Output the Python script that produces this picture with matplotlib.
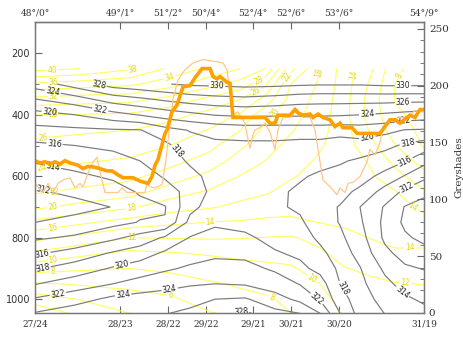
import numpy as np
import matplotlib
matplotlib.use("Agg")
import matplotlib.pyplot as plt

# ---------------- data ----------------
station_x = [0, 85, 133, 171, 218, 256, 304, 389]
bottom_labels = ["27/24", "28/23", "28/22", "29/22", "29/21", "30/21", "30/20", "31/19"]
top_labels = ["48°/0°", "49°/1°", "51°/2°", "50°/4°", "52°/4°", "52°/6°", "53°/6°", "54°/9°"]

# grey contour field (theta-e, K), levels 300..1050 hPa
grey_p = [300, 350, 400, 450, 500, 550, 600, 650, 700, 750, 800, 850, 900, 950, 1000, 1050]
grey_x = [0, 40, 78, 105, 130, 155, 180, 210, 240, 265, 285, 305, 325, 350, 370, 389]
theta_e = [
    [324.9, 326.9, 328.9, 329.4, 329.9, 330.3, 330.4, 330.6, 330.5, 330.3, 330.2, 330.2, 330.2, 330.4, 330.4, 330.4],
    [321.9, 323.1, 324.9, 325.6, 326.3, 326.9, 327.3, 327.5, 327.2, 326.8, 326.7, 326.7, 326.7, 326.7, 326.6, 326.6],
    [319.3, 320.0, 321.3, 322.1, 322.9, 323.5, 324.1, 324.4, 324.3, 324.3, 324.3, 324.2, 324.0, 323.7, 323.4, 323.1],
    [317.4, 317.6, 317.8, 317.9, 319.3, 320.1, 320.6, 320.9, 320.9, 320.9, 320.9, 320.8, 321.0, 320.6, 319.9, 319.8],
    [315.6, 316.0, 316.4, 316.95, 317.5, 319.2, 319.6, 319.6, 319.6, 319.4, 319.4, 319.0, 319.2, 318.5, 317.7, 317.1],
    [314.2, 314.8, 315.3, 316.0, 316.8, 318.3, 319.0, 319.0, 319.0, 318.9, 318.6, 318.2, 317.7, 317.0, 316.1, 314.6],
    [312.9, 313.6, 314.3, 315.1, 316.2, 317.4, 318.7, 318.7, 318.6, 318.2, 317.7, 317.4, 316.8, 315.4, 313.85, 312.5],
    [311.8, 312.4, 313.2, 314.2, 315.2, 316.6, 318.7, 318.5, 318.35, 317.7, 316.9, 316.6, 315.6, 313.2, 311.6, 310.4],
    [311.1, 311.4, 312.05, 313.5, 313.9, 317.4, 319.0, 318.5, 318.3, 317.7, 316.6, 315.9, 314.0, 311.8, 309.9, 309.4],
    [312.0, 312.6, 313.4, 314.1, 314.1, 318.6, 319.7, 319.3, 318.6, 318.3, 316.9, 315.9, 314.3, 311.5, 309.6, 308.9],
    [313.7, 314.3, 315.6, 316.7, 318.3, 320.1, 320.65, 320.4, 319.3, 318.9, 317.6, 316.4, 314.8, 311.6, 310.3, 309.5],
    [315.7, 316.8, 318.2, 319.1, 320.3, 321.1, 321.6, 321.5, 320.2, 319.6, 318.5, 317.0, 315.3, 312.5, 311.2, 310.7],
    [317.8, 318.9, 320.2, 320.9, 321.7, 322.3, 322.7, 322.6, 321.7, 320.5, 319.4, 317.6, 316.1, 313.6, 312.3, 311.9],
    [319.9, 321.0, 322.0, 322.8, 323.3, 323.8, 324.0, 323.8, 323.0, 321.9, 320.9, 318.0, 316.5, 314.5, 313.3, 313.0],
    [322.2, 323.2, 324.5, 324.8, 325.0, 325.2, 326.0, 326.2, 324.8, 323.5, 321.8, 318.9, 316.9, 315.3, 314.3, 313.7],
    [324.3, 325.3, 325.5, 325.6, 326.0, 326.6, 327.5, 328.6, 326.7, 326.2, 324.2, 320.1, 317.3, 316.0, 315.1, 314.6],
]

# yellow contour field, levels 250..1050 hPa
yellow_p = [250, 300, 350, 400, 450, 500, 550, 600, 650, 700, 750, 800, 850, 900, 950, 1000, 1050]
yellow_x = [0, 45, 95, 135, 175, 205, 230, 255, 285, 310, 335, 360, 389]
yellow_field = [
    [40.7, 40.0, 38.3, 35.6, 33.5, 32.0, 30.0, 22.8, 18.0, 15.0, 12.5, 8.5, 6.8],
    [35.6, 35.0, 34.4, 32.8, 30.7, 29.2, 26.5, 20.05, 17.7, 14.9, 11.7, 8.0, 6.9],
    [31.3, 30.9, 30.6, 29.3, 27.4, 26.0, 23.3, 19.4, 17.3, 14.7, 11.2, 7.9, 7.0],
    [28.0, 27.9, 27.7, 26.7, 25.3, 23.8, 20.6, 18.8, 17.0, 14.6, 11.2, 8.4, 7.2],
    [26.6, 26.3, 26.0, 25.2, 23.85, 22.05, 19.5, 18.2, 16.7, 14.7, 11.8, 9.0, 7.5],
    [25.5, 25.2, 24.9, 24.0, 22.6, 20.4, 18.75, 17.5, 16.2, 14.9, 12.6, 10.05, 7.8],
    [24.5, 24.2, 23.75, 22.7, 21.1, 19.1, 18.0, 16.9, 15.7, 15.0, 13.8, 11.4, 9.1],
    [23.5, 23.0, 22.5, 21.1, 19.4, 17.95, 17.1, 16.2, 15.3, 15.0, 14.3, 12.7, 10.7],
    [22.25, 21.65, 20.9, 19.0, 17.75, 16.8, 16.25, 15.4, 15.0, 14.9, 14.5, 14.1, 12.2],
    [20.4, 19.4, 18.3, 16.9, 16.2, 15.5, 15.0, 14.6, 14.6, 14.7, 14.6, 14.8, 13.5],
    [17.5, 16.4, 15.1, 14.4, 13.95, 13.8, 13.6, 13.6, 14.05, 14.3, 14.5, 15.0, 14.8],
    [14.6, 13.4, 12.0, 12.1, 12.2, 12.1, 11.95, 11.8, 12.6, 13.5, 14.05, 14.8, 14.6],
    [11.7, 10.5, 9.6, 9.9, 10.2, 10.5, 10.7, 10.8, 11.7, 12.8, 13.4, 13.6, 13.7],
    [8.8, 8.3, 8.0, 8.4, 9.1, 9.3, 9.5, 9.75, 10.8, 11.95, 12.3, 13.0, 12.9],
    [5.8, 6.2, 6.5, 7.0, 7.75, 8.3, 8.9, 9.0, 10.0, 11.2, 11.7, 11.9, 12.05],
    [3.0, 4.1, 5.2, 5.7, 6.9, 7.3, 7.6, 8.6, 9.4, 10.7, 11.3, 11.5, 11.5],
    [0.2, 2.3, 3.9, 4.6, 5.8, 6.3, 6.8, 7.9, 8.8, 10.2, 11.0, 11.1, 11.0],
]

# greyshade series (right axis)
thick_x = [0, 5, 10, 15, 20, 25, 30, 35, 43, 48, 53, 58, 65, 72, 77, 83, 88, 98, 105, 113,
           117, 120, 123, 127, 130, 132, 137, 142, 148, 155, 160, 167, 175, 178, 182, 185,
           192, 195, 198, 202, 230, 235, 240, 243, 255, 260, 263, 268, 275, 278, 283, 288,
           295, 300, 305, 308, 317, 322, 345, 355, 360, 365, 375, 380, 385, 389]
thick_g = [134, 132, 133, 131, 133, 131, 134, 132, 130, 127, 129, 128.5, 127, 125, 125, 121.5,
           119, 119, 116, 114, 120, 130, 135, 148, 158, 161, 177, 183, 199, 200, 207, 215,
           215, 208, 206, 208, 203, 202, 172, 172, 172, 167, 167, 174, 174, 179, 176, 174,
           175, 172, 175, 172, 170, 164, 167, 163, 163, 158, 158, 170, 170, 167, 174, 172,
           179, 179]

thin_x = [0, 8, 13, 18, 23, 28, 35, 40, 45, 48, 53, 58, 62, 63, 67, 70, 83, 87, 92, 110, 112,
          115, 120, 127, 131, 133, 136, 138, 143, 150, 158, 168, 182, 188, 192, 195, 198, 203,
          210, 212, 215, 218, 220, 225, 230, 235, 240, 243, 248, 255, 262, 268, 275, 280, 283,
          288, 295, 302, 305, 310, 313, 318, 325, 332, 335, 340, 345, 348, 355, 365, 372, 380,
          385, 389]
thin_g = [114, 106, 114, 106, 114, 117, 119, 110, 114, 111, 123, 133, 137, 132, 117, 106, 106,
          110, 106, 106, 114, 111, 110, 113, 135, 152, 172, 188, 205, 214, 220, 223, 221, 220,
          214, 194, 174, 177, 167, 157, 145, 157, 161, 163, 167, 159, 144, 161, 172, 172, 179,
          172, 172, 161, 144, 117, 111, 104, 110, 106, 114, 115, 120, 133, 144, 139, 150, 164,
          170, 172, 172, 178, 177, 177]

grey_levels = list(range(306, 336, 2))
yellow_levels = list(range(2, 50, 2))

# label anchor points (x, p)
grey_label_pts = [(368, 306), (368, 358), (332, 387), (368, 416), (332, 470), (372, 480),
                  (372, 563), (375, 660), (182, 305), (18, 319), (63, 312), (65, 387),
                  (15, 384), (20, 478), (143, 514), (18, 569), (8, 638), (8, 862),
                  (8, 904), (23, 986), (87, 888), (88, 982), (135, 975), (205, 1020),
                  (365, 985), (285, 985), (310, 960)]
yellow_label_pts = [(17, 257), (98, 262), (18, 297), (18, 341), (18, 397), (8, 472),
                    (7, 576), (20, 654), (18, 709), (18, 777), (18, 868), (18, 900),
                    (18, 983), (97, 710), (97, 800), (175, 748), (135, 988), (237, 990),
                    (135, 283), (223, 280), (223, 335), (237, 384), (252, 277),
                    (285, 263), (325, 273), (365, 273), (277, 930), (370, 937),
                    (375, 708), (375, 858)]

# ---------------- plot ----------------
W, H = 463, 340
fig = plt.figure(figsize=(W / 100, H / 100), dpi=100)
ax = fig.add_axes([35 / W, 1 - 313 / H, (424 - 35) / W, (313 - 22) / H])
ax.set_xlim(0, 389)
ax.set_ylim(1045, 98)

Xy, Py = np.meshgrid(yellow_x, yellow_p)
Xg, Pg = np.meshgrid(grey_x, grey_p)

cy = ax.contour(Xy, Py, np.array(yellow_field), levels=yellow_levels,
                colors="#ffff5c", linewidths=0.8)
ax.clabel(cy, fmt="%d", fontsize=5.5, colors="#e8d800", inline=True, inline_spacing=1,
          manual=yellow_label_pts)
cg = ax.contour(Xg, Pg, np.array(theta_e), levels=grey_levels, colors="#7a7a7a",
                linewidths=0.85)
ax.clabel(cg, fmt="%d", fontsize=5.5, colors="#222222", inline=True, inline_spacing=1,
          manual=grey_label_pts)

ax.set_yticks([200, 400, 600, 800, 1000])
ax.set_yticks([300, 500, 700, 900], minor=True)
ax.tick_params(axis="y", which="both", direction="in", labelsize=7, colors="#666666",
               labelcolor="#333333", length=5)
ax.tick_params(axis="y", which="minor", length=3)

ax.set_xticks(station_x)
ax.set_xticklabels(bottom_labels, family="DejaVu Serif", fontsize=6.5, color="#333333")
ax.tick_params(axis="x", direction="in", length=5, colors="#666666", labelcolor="#333333",
               pad=5)

top = ax.secondary_xaxis("top")
top.set_xticks(station_x)
top.set_xticklabels(top_labels, family="DejaVu Serif", fontsize=6.5, color="#333333")
top.tick_params(direction="in", length=5, colors="#666666", labelcolor="#333333", pad=3)

for s in ax.spines.values():
    s.set_color("#777777")
    s.set_linewidth(0.9)

ax2 = ax.twinx()
ax2.set_ylim(0, 256)
ax2.plot(thin_x, thin_g, color="#ffc88a", lw=0.9)
ax2.plot(thick_x, thick_g, color="#ff9f00", lw=2.6, solid_joinstyle="miter")
ax2.set_yticks([0, 50, 100, 150, 200, 250])
ax2.set_yticks(list(range(10, 256, 10)), minor=True)
ax2.tick_params(axis="y", which="both", direction="in", colors="#666666",
                labelcolor="#333333", labelsize=7.5, length=5)
ax2.tick_params(axis="y", which="minor", length=3)
for lab in ax2.get_yticklabels():
    lab.set_family("DejaVu Serif")
ax2.set_ylabel("Greyshades", family="DejaVu Serif", fontsize=7.5, color="#333333", labelpad=4)
for s in ax2.spines.values():
    s.set_color("#777777")
    s.set_linewidth(0.9)

fig.savefig("out.png", dpi=100)
